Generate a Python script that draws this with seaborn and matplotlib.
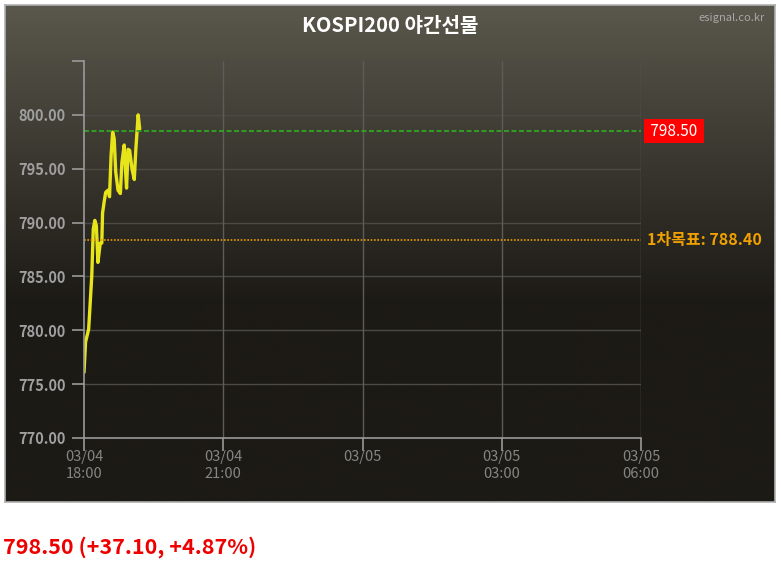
import numpy as np
import seaborn as sns
import matplotlib.pyplot as plt
import pandas as pd

# minutes after 03/04 18:00
minutes = [0, 2, 6, 7, 10, 12, 14, 16, 18, 21, 23, 24, 26, 28, 31, 33, 35, 37,
           39, 41, 44, 47, 49, 52, 54, 55, 57, 59, 62, 65, 67, 70, 72]
prices = [776.1, 778.9, 780.1, 781.3, 785.0, 789.4, 790.2, 789.7, 786.3, 788.1,
          788.1, 790.9, 791.9, 792.8, 793.0, 792.4, 796.2, 798.4, 797.8, 794.7,
          793.0, 792.7, 795.6, 797.2, 794.4, 793.2, 796.8, 796.7, 795.0, 794.0,
          796.8, 800.0, 798.7]

tick_pos = [0, 180, 360, 540, 720]
tick_labels = ["03/04\n18:00", "03/04\n21:00", "03/05", "03/05\n03:00", "03/05\n06:00"]
y_ticks = [770, 775, 780, 785, 790, 795, 800]

current = 798.50
target = 788.40
title = "KOSPI200 야간선물"
summary = "798.50 (+37.10, +4.87%)"

df = pd.DataFrame({"minute": minutes, "price": prices})

sns.set_style("dark")
plt.rcParams['font.family'] = ['Noto Sans CJK KR', 'DejaVu Sans']

fig = plt.figure(figsize=(7.81, 5.68), dpi=100)
fig.patch.set_facecolor("white")

W, H = 781, 568

# background box with vertical gradient
bg = fig.add_axes([5 / W, 1 - 502 / H, 770 / W, 497 / H])
top_c = np.array([0x5a, 0x57, 0x4c]) / 255
bot_c = np.array([0x1c, 0x1a, 0x15]) / 255
t = np.clip(np.linspace(0, 1, 300) / 0.6, 0, 1)[:, None]
img = top_c * (1 - t) + bot_c * t
bg.imshow(img[:, None, :].repeat(2, axis=1), aspect="auto", extent=[0, 1, 0, 1])
bg.set_xticks([])
bg.set_yticks([])
for s in bg.spines.values():
    s.set_color("#b0b0b0")
    s.set_linewidth(1.2)

bg.text(0.5, 1 - 21 / 497, title, ha="center", va="center", color="white",
        fontsize=14.5, fontweight="bold", transform=bg.transAxes)
bg.text(1 - 10 / 770, 1 - 13 / 497, "esignal.co.kr", ha="right", va="center",
        color="#a8a8a8", fontsize=8, transform=bg.transAxes)

ax = fig.add_axes([84 / W, 1 - 438 / H, (641 - 84) / W, (438 - 61) / H])
ax.patch.set_alpha(0)

sns.lineplot(data=df, x="minute", y="price", ax=ax, color="#e8e41a", linewidth=2.4)

ax.set_xlim(0, 720)
ax.set_ylim(770, 805)
ax.set_yticks(y_ticks + [805])
ax.set_yticklabels([f"{v:.2f}" for v in y_ticks] + [""])
ax.set_xticks(tick_pos)
ax.set_xticklabels(tick_labels)
ax.set_xlabel("")
ax.set_ylabel("")

ax.grid(False)
for v in y_ticks[1:] + [805]:
    ax.axhline(v, color="#4c4a45", linewidth=1, zorder=0)
for p in tick_pos[1:]:
    ax.axvline(p, color="#5e5c58", linewidth=1, zorder=0)

for name, s in ax.spines.items():
    s.set_visible(name in ("left", "bottom"))
    s.set_color("#9a9a9a")
    s.set_linewidth(1.2)

ax.tick_params(axis="y", length=9, width=1.2, color="#9a9a9a",
               labelcolor="#a0a0a0", labelsize=10.5, pad=4)
ax.tick_params(axis="x", length=9, width=1.2, color="#9a9a9a",
               labelcolor="#858585", labelsize=10.5, pad=0)
for lbl in ax.get_yticklabels():
    lbl.set_fontweight("bold")
for lbl in ax.get_xticklabels():
    lbl.set_linespacing(1.25)
ax.tick_params(axis="both", which="both", left=True, bottom=True)

ax.axhline(current, color="#2fae1f", linewidth=1.2, linestyle=(0, (3, 1.5)))
ax.axhline(target, color="#e89a00", linewidth=1.2, linestyle=(0, (1, 1)))

ax.text(1.0 + 6 / 557, current, f" {current:.2f} ", transform=ax.get_yaxis_transform(),
        ha="left", va="center", color="white", fontsize=11,
        bbox=dict(boxstyle="square,pad=0.2", facecolor="#ff0000", edgecolor="none"),
        clip_on=False)
ax.text(1.0 + 6 / 557, target, f"1차목표: {target:.2f}", transform=ax.get_yaxis_transform(),
        ha="left", va="center", color="#f0a000", fontsize=11.5, fontweight="bold",
        clip_on=False)

fig.text(3 / W, 1 - 547 / H, summary, ha="left", va="center", color="#ee0000",
         fontsize=15.5, fontweight="bold")

fig.savefig("out.png", dpi=100)
